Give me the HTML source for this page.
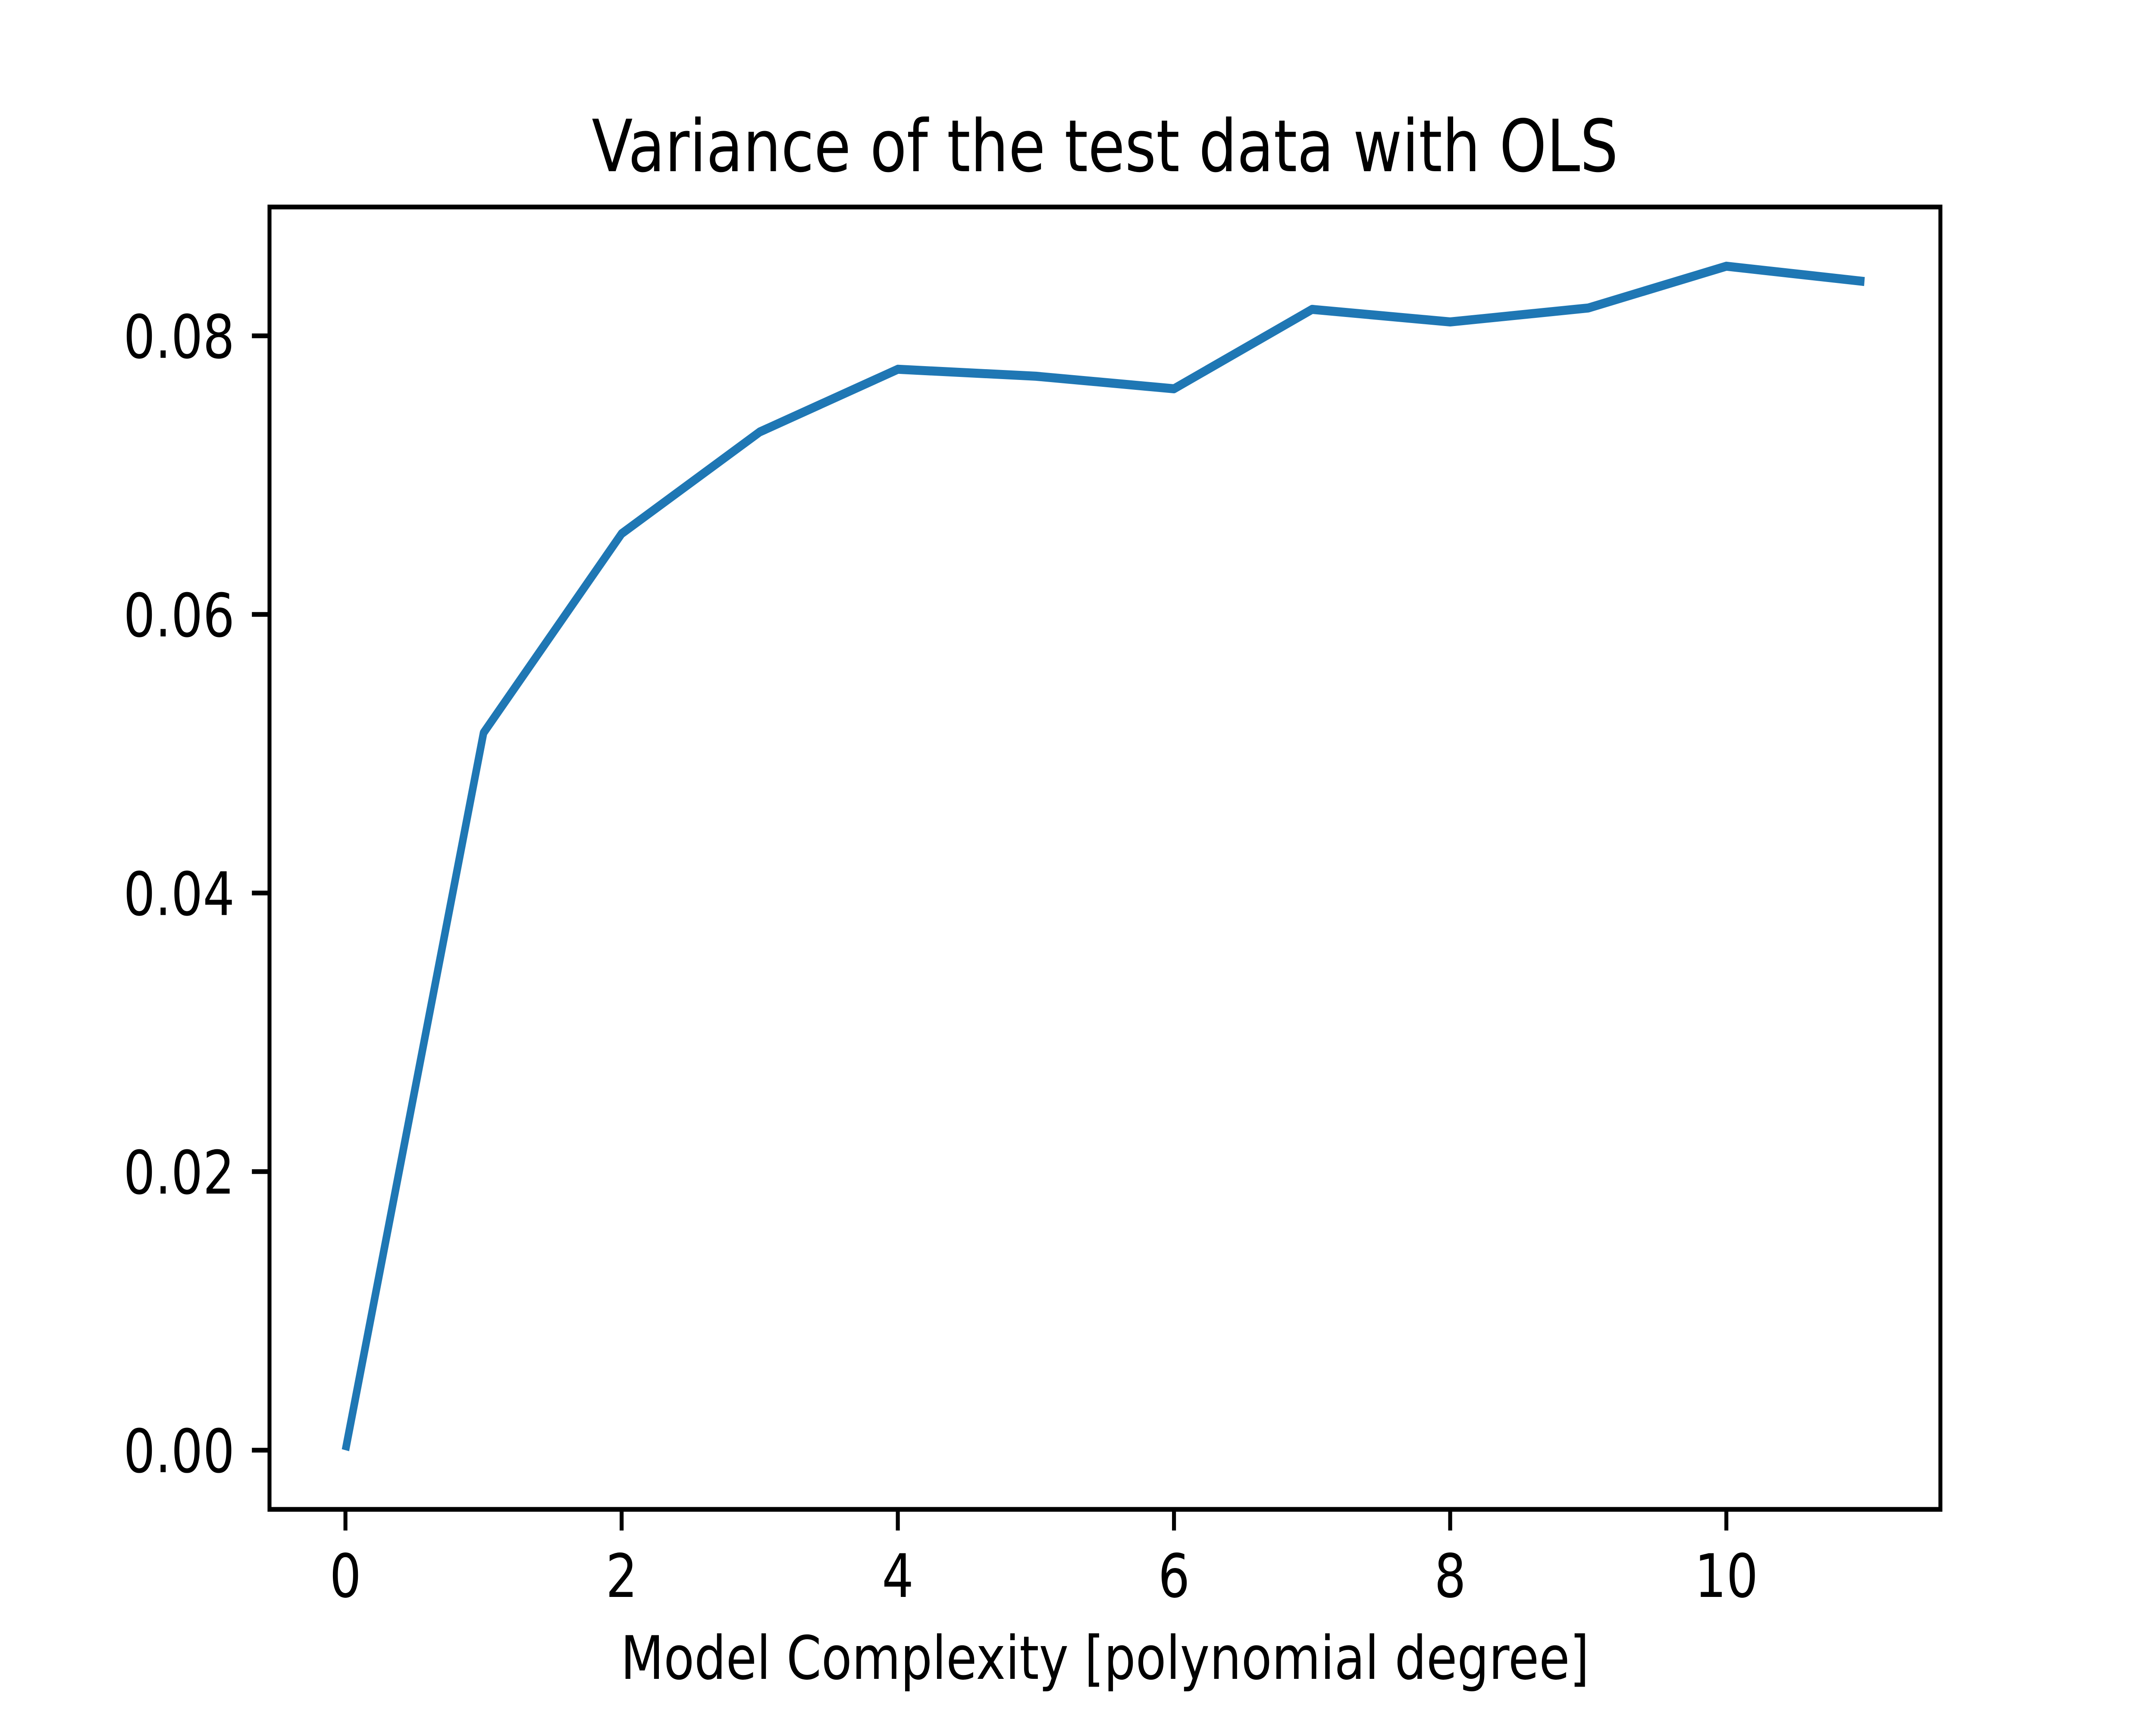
<!DOCTYPE html>
<html>
<head>
<meta charset="utf-8">
<style>
html,body{margin:0;padding:0;background:#fff;width:100%;height:100%;overflow:hidden;}
svg{display:block;width:100vw;height:100vh;}
text{font-family:"DejaVu Sans","Liberation Sans",sans-serif;fill:#000;}
</style>
</head>
<body>
<svg id="chart" viewBox="0 0 6000 4000" preserveAspectRatio="none" xmlns="http://www.w3.org/2000/svg">
  <rect x="0" y="0" width="6000" height="4000" fill="#fff"/>
  <text x="3075" y="397" font-size="167" text-anchor="middle">Variance of the test data with OLS</text>
  <g id="xticks"></g>
  <g id="yticks"></g>
  <polyline id="series" fill="none" stroke="#1f77b4" stroke-width="21" stroke-linejoin="round" stroke-linecap="butt"/>
  <rect x="750" y="480" width="4650" height="3020" fill="none" stroke="#000" stroke-width="11"/>
  <text x="3075" y="3893" font-size="139" text-anchor="middle">Model Complexity [polynomial degree]</text>
</svg>
<script>
const degrees = [0,1,2,3,4,5,6,7,8,9,10,11];
const variance = [0,0.0515,0.0658,0.0731,0.0776,0.0771,0.0762,0.0819,0.0810,0.0820,0.0850,0.0839];
const xTickValues = [0,2,4,6,8,10];
const xTickLabels = ["0","2","4","6","8","10"];
const yTickValues = [0,0.02,0.04,0.06,0.08];
const yTickLabels = ["0.00","0.02","0.04","0.06","0.08"];

const NS = "http://www.w3.org/2000/svg";
const L = 750, R = 5400, T = 480, B = 3500;
const xmin0 = Math.min(...degrees), xmax0 = Math.max(...degrees);
const ymin0 = Math.min(...variance), ymax0 = Math.max(...variance);
const xm = (xmax0 - xmin0) * 0.05, ym = (ymax0 - ymin0) * 0.05;
const xlo = xmin0 - xm, xhi = xmax0 + xm, ylo = ymin0 - ym, yhi = ymax0 + ym;
function xs(v){ return L + (v - xlo) / (xhi - xlo) * (R - L); }
function ys(v){ return B - (v - ylo) / (yhi - ylo) * (B - T); }

const pts = degrees.map((d,i) => xs(d).toFixed(1) + "," + ys(variance[i]).toFixed(1)).join(" ");
document.getElementById("series").setAttribute("points", pts);

const xg = document.getElementById("xticks");
xTickValues.forEach((v,i) => {
  const x = xs(v);
  const ln = document.createElementNS(NS, "line");
  
  
  ln.setAttribute("x1", x); ln.setAttribute("x2", x);
  ln.setAttribute("y1", B); ln.setAttribute("y2", B + 49);
  ln.setAttribute("stroke", "#000"); ln.setAttribute("stroke-width", "11");
  xg.appendChild(ln);
  const t = document.createElementNS(NS, "text");
  
  
  t.setAttribute("x", x); t.setAttribute("y", 3703);
  t.setAttribute("font-size", "139"); t.setAttribute("text-anchor", "middle");
  t.textContent = xTickLabels[i];
  xg.appendChild(t);
});

const yg = document.getElementById("yticks");
yTickValues.forEach((v,i) => {
  const y = ys(v);
  const ln = document.createElementNS(NS, "line");
  
  
  ln.setAttribute("x1", L - 49); ln.setAttribute("x2", L);
  ln.setAttribute("y1", y); ln.setAttribute("y2", y);
  ln.setAttribute("stroke", "#000"); ln.setAttribute("stroke-width", "11");
  yg.appendChild(ln);
  const t = document.createElementNS(NS, "text");
  
  
  t.setAttribute("x", 653); t.setAttribute("y", y + 51);
  t.setAttribute("font-size", "139"); t.setAttribute("text-anchor", "end");
  t.textContent = yTickLabels[i];
  yg.appendChild(t);
});
</script>
</body>
</html>
